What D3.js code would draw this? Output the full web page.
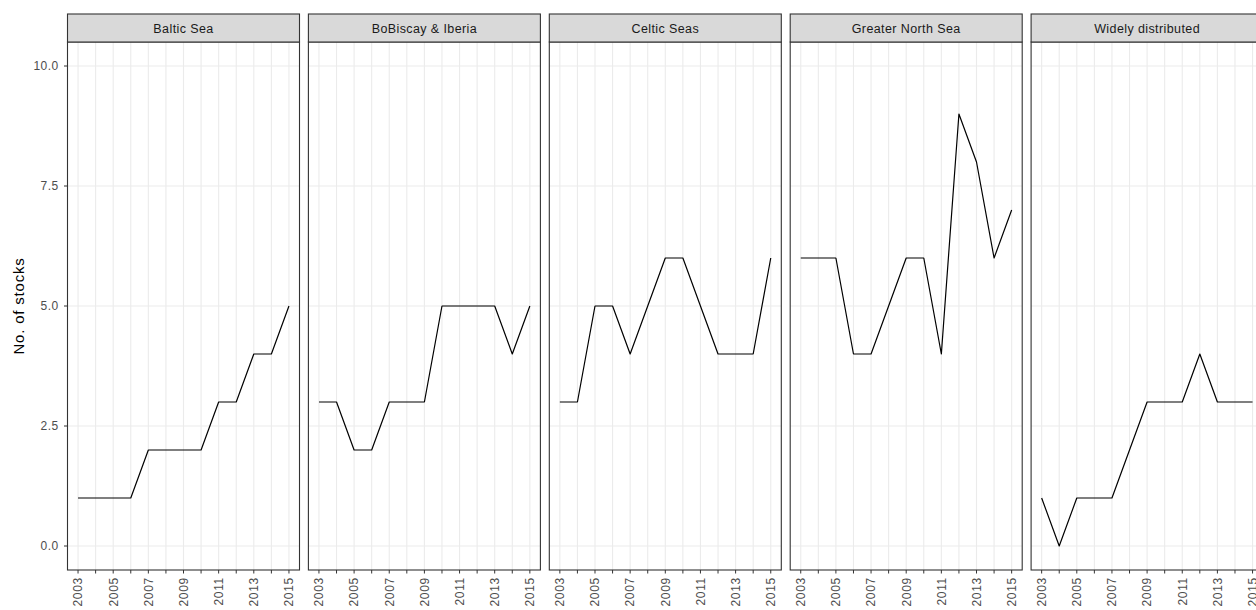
<!DOCTYPE html>
<html><head><meta charset="utf-8">
<script src="https://cdn.jsdelivr.net/npm/d3@7"></script>
<style>body{margin:0;background:#fff}svg{display:block}text{font-family:"Liberation Sans",Arial,sans-serif}</style>
</head><body><svg id="c" width="1256" height="610"></svg>
<script>
const years = [2003,2004,2005,2006,2007,2008,2009,2010,2011,2012,2013,2014,2015];
const regions = ["Baltic Sea","BoBiscay & Iberia","Celtic Seas","Greater North Sea","Widely distributed"];
const balticSea = [1,1,1,1,2,2,2,2,3,3,4,4,5];
const boBiscay = [3,3,2,2,3,3,3,5,5,5,5,4,5];
const celticSeas = [3,3,5,5,4,5,6,6,5,4,4,4,6];
const greaterNorthSea = [6,6,6,4,4,5,6,6,4,9,8,6,7];
const widelyDistributed = [1,0,1,1,1,2,3,3,3,4,3,3,3];
const seriesValues = [balticSea, boBiscay, celticSeas, greaterNorthSea, widelyDistributed];
const yTicks = [0,2.5,5,7.5,10];
const xTickLabels = [2003,2005,2007,2009,2011,2013,2015];

const svg = d3.select("#c");
const panelTop = 42, panelBottom = 570, stripTop = 14;
const panelW = 232, firstLeft = 67.5, step = 240.9;

const y = d3.scaleLinear().domain([-0.5,10.5]).range([panelBottom, panelTop]);
const x0 = d3.scaleLinear().domain([2003-0.6, 2015+0.6]).range([0, panelW]);

const yAx = svg.append("g");
yTicks.forEach(t=>{
  yAx.append("line").attr("x1",firstLeft-3.5).attr("x2",firstLeft).attr("y1",y(t)).attr("y2",y(t)).attr("stroke","#333").attr("stroke-width",1);
  yAx.append("text").attr("x",firstLeft-9).attr("y",y(t)).attr("dy","0.36em").attr("text-anchor","end")
    .attr("font-size",12).attr("letter-spacing",0.4).attr("fill","#4d4d4d").text(d3.format(".1f")(t));
});
svg.append("text").attr("transform",`translate(24,${(panelTop+panelBottom)/2}) rotate(-90)`)
  .attr("text-anchor","middle").attr("font-size",15).attr("letter-spacing",0.8).attr("fill","#000").text("No. of stocks");

regions.forEach((r,i)=>{
  const left = firstLeft + i*step;
  const g = svg.append("g").attr("transform",`translate(${left},0)`);
  years.forEach(yr=>{
    g.append("line").attr("x1",x0(yr)).attr("x2",x0(yr)).attr("y1",panelTop).attr("y2",panelBottom)
      .attr("stroke","#ebebeb").attr("stroke-width",1.1);
  });
  yTicks.forEach(t=>{
    g.append("line").attr("x1",0).attr("x2",panelW).attr("y1",y(t)).attr("y2",y(t))
      .attr("stroke","#ebebeb").attr("stroke-width",1.1);
  });
  const line = d3.line().x((d,j)=>x0(years[j])).y(d=>y(d));
  g.append("path").datum(seriesValues[i]).attr("d",line).attr("fill","none")
    .attr("stroke","#000").attr("stroke-width",1.2).attr("stroke-linejoin","round");
  g.append("rect").attr("x",0).attr("y",panelTop).attr("width",panelW).attr("height",panelBottom-panelTop)
    .attr("fill","none").attr("stroke","#333").attr("stroke-width",1.1);
  g.append("rect").attr("x",0).attr("y",stripTop).attr("width",panelW).attr("height",panelTop-stripTop)
    .attr("fill","#d9d9d9").attr("stroke","#333").attr("stroke-width",1.1);
  g.append("text").attr("x",panelW/2).attr("y",(stripTop+panelTop)/2).attr("dy","0.36em")
    .attr("text-anchor","middle").attr("font-size",12.5).attr("letter-spacing",0.4).attr("fill","#1a1a1a").text(r);
  years.forEach(yr=>{
    g.append("line").attr("x1",x0(yr)).attr("x2",x0(yr)).attr("y1",panelBottom).attr("y2",panelBottom+3.5)
      .attr("stroke","#333").attr("stroke-width",1);
  });
  xTickLabels.forEach(yr=>{
    g.append("text").attr("transform",`translate(${x0(yr)},${panelBottom+7}) rotate(-90)`)
      .attr("dy","0.36em").attr("text-anchor","end").attr("font-size",12).attr("letter-spacing",0.7).attr("fill","#4d4d4d").text(yr);
  });
});
</script></body></html>
